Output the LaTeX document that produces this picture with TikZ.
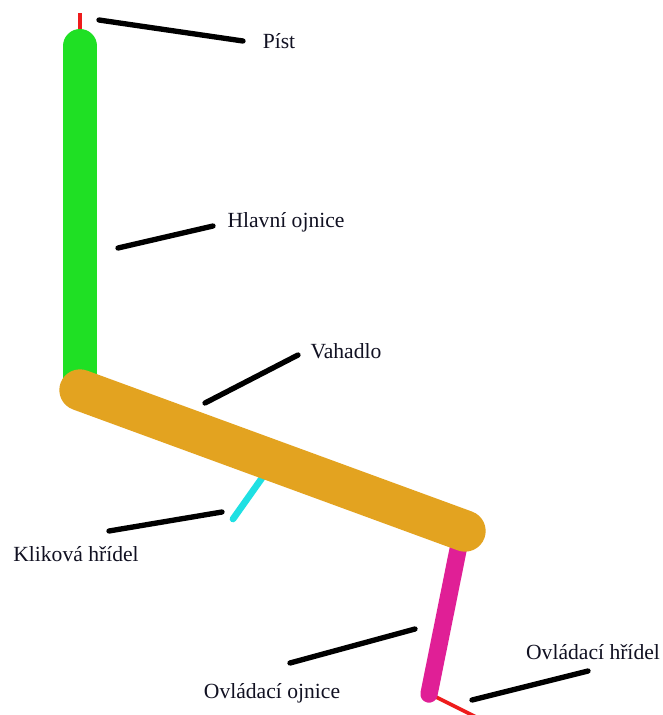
\documentclass[tikz,border=0pt]{standalone}
\usepackage{fontspec}
\setmainfont{Liberation Serif}
\definecolor{rodgreen}{HTML}{1FE024}
\definecolor{rockerorange}{HTML}{E3A320}
\definecolor{rodmagenta}{HTML}{E01F96}
\definecolor{shaftcyan}{HTML}{1FE0E3}
\definecolor{shaftred}{HTML}{EE1C1C}
\definecolor{labelink}{HTML}{111122}
\tikzset{
  part/.style={line cap=round},
  leader/.style={draw=black,line width=4pt,line cap=round},
  lbl/.style={font=\fontsize{16.2pt}{19pt}\selectfont,text=labelink,inner sep=0pt}
}
\begin{document}
\begin{tikzpicture}[x=0.75pt,y=-0.75pt]
\useasboundingbox (0,0) rectangle (662,715);
\fill[white] (0,0) rectangle (662,715);
% parts
\draw[shaftred,line width=2.4pt] (80,13) -- (80,32);
\draw[part,rodgreen,line width=25.5pt] (80,46) -- (80,390);
\draw[part,shaftcyan,line width=5pt] (262,478) -- (233,519);
\clip (0,0) rectangle (662,715);
\draw[shaftred,line width=2.8pt] (436,697) -- (480,719);
\draw[part,rodmagenta,line width=13pt] (459,545) -- (429,694);
\draw[part,rockerorange,line width=31pt] (80,390) -- (465,531);
% leaders
\draw[leader] (99,20) -- (243,41);
\draw[leader] (118,248) -- (213,226);
\draw[leader] (205,403) -- (298,355);
\draw[leader] (109,531) -- (222,512);
\draw[leader] (290,663) -- (415,629);
\draw[leader] (472,700) -- (588,671);
% labels
\node[lbl] (pist) at (279,41) {Píst};
\node[lbl] (hlavni) at (286,222.5) {Hlavní ojnice};
\node[lbl] (vahadlo) at (346,351) {Vahadlo};
\node[lbl] (klikova) at (76,554) {Kliková hřídel};
\node[lbl] (ojnice) at (272,693.5) {Ovládací ojnice};
\node[lbl] (hridel) at (593,652) {Ovládací hřídel};
\end{tikzpicture}
\end{document}
